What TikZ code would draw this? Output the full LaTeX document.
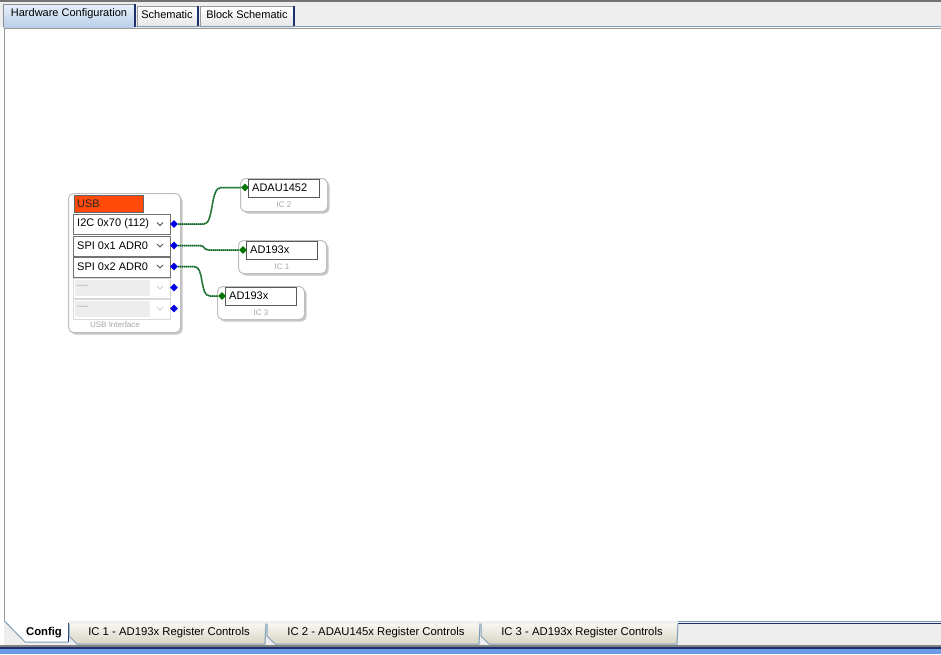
\documentclass[tikz,border=0pt]{standalone}
\usepackage{fontspec}
\setmainfont{Liberation Sans}
\usetikzlibrary{shapes.geometric,shadows}
\definecolor{topbg}{HTML}{EEEEEE}
\definecolor{tabline}{HTML}{7F9DB9}
\definecolor{navy}{HTML}{1E2F6E}
\definecolor{selA}{HTML}{E8F0FA}
\definecolor{selB}{HTML}{B9D0EA}
\definecolor{beigeA}{HTML}{F7F6F1}
\definecolor{beigeB}{HTML}{D9D5C4}
\definecolor{usbred}{HTML}{FF4A0A}
\definecolor{wireA}{HTML}{3FA05A}
\definecolor{wireB}{HTML}{1A5A28}
\definecolor{barblue}{HTML}{6B9BE3}
\tikzset{
  blk/.style={draw=black!25, fill=white, rounded corners=5pt, line width=1pt,
    drop shadow={shadow xshift=2pt, shadow yshift=-2pt, fill=black!22, opacity=1}},
  rowbox/.style={draw=black!55, fill=white, line width=0.8pt, minimum width=97pt, minimum height=20pt, inner sep=0pt, anchor=north west},
  offbox/.style={draw=black!15, fill=white, line width=0.8pt, minimum width=97pt, minimum height=20pt, inner sep=0pt, anchor=north west},
  tbox/.style={draw=black!65, fill=white, line width=0.8pt, minimum width=71pt, minimum height=18pt, inner sep=0pt, anchor=north west},
  uitxt/.style={font=\fontsize{11}{13}\selectfont, inner sep=0pt, anchor=west},
  captxt/.style={font=\fontsize{8}{10}\selectfont, text=black!35, inner sep=0pt},
  bdia/.style={diamond, fill=blue!90!black, minimum size=8pt, inner sep=0pt},
  gdia/.style={diamond, fill=green!45!black, minimum size=8pt, inner sep=0pt},
  wire/.style={draw=wireA, line width=1.5pt,
    postaction={draw=wireB, line width=1.5pt, dash pattern=on 1pt off 1pt}},
  chev/.style={draw=black!70, line width=0.8pt},
  chevoff/.style={draw=black!20, line width=0.8pt},
  tabtxt/.style={font=\fontsize{11}{13}\selectfont, inner sep=0pt},
  btabtxt/.style={font=\fontsize{11.3}{13}\selectfont, inner sep=0pt}
}
\begin{document}
\begin{tikzpicture}[x=1pt,y=-1pt]
\useasboundingbox (0,0) rectangle (941,654);
% ---------- top tab strip ----------
\fill[topbg] (0,0) rectangle (941,27);
\fill[black!55] (0,0) rectangle (941,2);
% selected tab
\shade[top color=selA, bottom color=selB] (3,4) rectangle (135,27);
\draw[black!45, line width=0.8pt] (3,27) -- (3,4) -- (135,4);
\draw[navy, line width=1.5pt] (135,4) -- (135,27);
\node[tabtxt] (tab1) at (69,14) {Hardware Configuration};
% other tabs
\shade[top color=white, bottom color=black!10] (137,6) rectangle (198,27);
\draw[black!40, line width=0.8pt] (137,27) -- (137,6) -- (198,6);
\draw[navy, line width=1.5pt] (198,6) -- (198,27);
\node[tabtxt] (tab2) at (167,15) {Schematic};
\shade[top color=white, bottom color=black!10] (200,6) rectangle (294,27);
\draw[black!40, line width=0.8pt] (200,27) -- (200,6) -- (294,6);
\draw[navy, line width=1.5pt] (294,6) -- (294,27);
\node[tabtxt] (tab3) at (247,15) {Block Schematic};
\draw[tabline, line width=1.2pt] (136,26.5) -- (941,26.5);
\draw[black!40, line width=1pt] (4,28.5) -- (941,28.5);
% ---------- canvas ----------
\fill[white] (5,29) rectangle (941,621);
\draw[black!40, line width=1pt] (4.5,28.5) -- (4.5,621);
% ---------- bottom tab strip ----------
\fill[topbg] (0,621) rectangle (941,646);
\fill[white] (0,621) rectangle (4,646);
\draw[tabline, line width=1pt] (678,621.5) -- (941,621.5);
\draw[navy, line width=1pt] (678,623.5) -- (941,623.5);
% Config tab (selected)
\fill[white] (4.5,621) -- (68,621) -- (68,642) -- (25,642) -- cycle;
\draw[tabline, line width=1pt] (4.5,621) -- (25,642) -- (68,642);
\draw[navy, line width=1pt] (68,642) -- (68,623);
\node[btabtxt, font=\fontsize{11.3}{13}\selectfont\bfseries] (bt0) at (44,633) {Config};
% IC 1 tab
\shade[top color=beigeA, bottom color=beigeB] (69,623.5) -- (265,623.5) -- (265,644) -- (77,644) -- (69,636) -- cycle;
\draw[tabline, line width=1pt] (69,623.5) -- (69,636) -- (77,644) -- (265,644);
\draw[tabline, line width=1pt] (265,644) -- (266,623.5);
\node[btabtxt] (bt1) at (169,633) {IC 1 - AD193x Register Controls};
% IC 2 tab
\shade[top color=beigeA, bottom color=beigeB] (267,623.5) -- (479,623.5) -- (479,644) -- (275,644) -- (267,636) -- cycle;
\draw[tabline, line width=1pt] (267,623.5) -- (267,636) -- (275,644) -- (479,644);
\draw[tabline, line width=1pt] (479,644) -- (480,623.5);
\node[btabtxt] (bt2) at (376,633) {IC 2 - ADAU145x Register Controls};
% IC 3 tab
\shade[top color=beigeA, bottom color=beigeB] (481,623.5) -- (677,623.5) -- (677,644) -- (489,644) -- (481,636) -- cycle;
\draw[tabline, line width=1pt] (481,623.5) -- (481,636) -- (489,644) -- (677,644);
\draw[tabline, line width=1pt] (677,644) -- (678,623.5);
\node[btabtxt] (bt3) at (582,633) {IC 3 - AD193x Register Controls};
% bottom bars
\fill[black!50] (0,645) rectangle (941,647);
\fill[navy] (0,647) rectangle (941,648.5);
\fill[barblue] (0,648.5) rectangle (941,654);
% ---------- USB interface block ----------
\node[blk, minimum width=112pt, minimum height=139pt, anchor=north west, inner sep=0pt] (usbif) at (68,193) {};
\node[draw=black!60, fill=usbred, minimum width=69pt, minimum height=17pt, inner sep=0pt, anchor=north west] (usbbox) at (74,195) {};
\node[uitxt, text=black!85] (usbtxt) at (77,203.5) {USB};
\node[rowbox] (r1) at (73,214) {};
\node[rowbox] (r2) at (73,235.5) {};
\node[rowbox] (r3) at (73,256.5) {};
\node[offbox] (r4) at (73,277.5) {};
\node[offbox] (r5) at (73,298.5) {};
\node[uitxt] (t1) at (77,224) {I2C 0x70 (112)};
\node[uitxt] (t2) at (77,245.5) {SPI 0x1 ADR0};
\node[uitxt] (t3) at (77,266.5) {SPI 0x2 ADR0};
\fill[black!7] (75,280) rectangle (150,296);
\fill[black!7] (75,301) rectangle (150,317);
\node[uitxt, text=black!30] (t4) at (77,287) {---};
\node[uitxt, text=black!30] (t5) at (77,308) {---};
\draw[chev] (157,222.5) -- (160,225.5) -- (163,222.5);
\draw[chev] (157,244) -- (160,247) -- (163,244);
\draw[chev] (157,265) -- (160,268) -- (163,265);
\draw[chevoff] (157,286) -- (160,289) -- (163,286);
\draw[chevoff] (157,307) -- (160,310) -- (163,307);
\node[captxt] (usbcap) at (115,325) {USB Interface};
\node[bdia] (p1) at (174,224) {};
\node[bdia] (p2) at (174,245.5) {};
\node[bdia] (p3) at (174,266.5) {};
\node[bdia] (p4) at (174,287.5) {};
\node[bdia] (p5) at (174,308.5) {};
% ---------- IC blocks ----------
\node[blk, minimum width=87pt, minimum height=33pt, anchor=north west, inner sep=0pt] (ic2) at (240,178) {};
\node[tbox] (ic2t) at (248,179) {};
\node[uitxt] (ic2n) at (252,188) {ADAU1452};
\node[captxt] (ic2c) at (284,205) {IC 2};
\node[gdia] (g2) at (245,187.5) {};

\node[blk, minimum width=88pt, minimum height=33pt, anchor=north west, inner sep=0pt] (ic1) at (238,240) {};
\node[tbox] (ic1t) at (246,241) {};
\node[uitxt] (ic1n) at (250,250) {AD193x};
\node[captxt] (ic1c) at (282,267) {IC 1};
\node[gdia] (g1) at (243,250) {};

\node[blk, minimum width=87pt, minimum height=33pt, anchor=north west, inner sep=0pt] (ic3) at (217,286) {};
\node[tbox] (ic3t) at (225,287) {};
\node[uitxt] (ic3n) at (229,296) {AD193x};
\node[captxt] (ic3c) at (261,313) {IC 3};
\node[gdia] (g3) at (222,296) {};
% ---------- wires ----------
\draw[wire] (p1.east) -- (204,224) .. controls (214,224) and (210,187.5) .. (221,187.5) -- (g2.west);
\draw[wire] (p2.east) -- (200,245.5) .. controls (205,245.5) and (203,250) .. (209,250) -- (g1.west);
\draw[wire] (p3.east) -- (194,266.5) .. controls (205,266.5) and (199,296) .. (210,296) -- (g3.west);
\end{tikzpicture}
\end{document}
